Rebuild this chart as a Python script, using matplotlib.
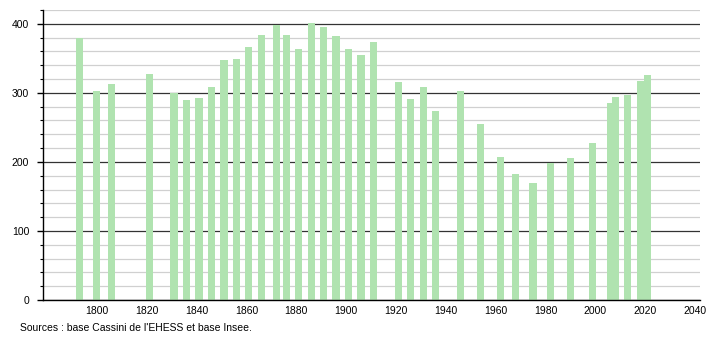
import matplotlib
matplotlib.use("Agg")
import matplotlib.pyplot as plt
from matplotlib.ticker import MultipleLocator

years = [1793, 1800, 1806, 1821, 1831, 1836, 1841, 1846, 1851, 1856, 1861, 1866,
         1872, 1876, 1881, 1886, 1891, 1896, 1901, 1906, 1911, 1921, 1926, 1931,
         1936, 1946, 1954, 1962, 1968, 1975, 1982, 1990, 1999, 2006, 2008, 2013,
         2018, 2021]
population = [379, 303, 313, 328, 300, 289, 292, 309, 348, 349, 367, 384,
              398, 384, 364, 401, 395, 382, 364, 355, 374, 315, 291, 309,
              273, 303, 255, 207, 183, 169, 199, 206, 228, 285, 294, 297,
              317, 326]
y_ticks = [0, 100, 200, 300, 400]
x_ticks = [1800, 1820, 1840, 1860, 1880, 1900, 1920, 1940, 1960, 1980, 2000, 2020, 2040]
source_text = "Sources : base Cassini de l'EHESS et base Insee."

plt.rcParams['font.family'] = ['Liberation Sans', 'DejaVu Sans']

fig = plt.figure(figsize=(7.1, 3.4), dpi=100)
ax = fig.add_axes([43/710, 1-300/340, (700-43)/710, (300-10)/340])

ax.set_xlim(1778.4, 2042)
ax.set_ylim(0, 420)

ax.yaxis.set_major_locator(MultipleLocator(100))
ax.yaxis.set_minor_locator(MultipleLocator(20))
ax.set_yticks(y_ticks)
ax.set_xticks(x_ticks)

ax.grid(which='minor', axis='y', color='#d0d0d0', linewidth=0.9, zorder=0)
ax.grid(which='major', axis='y', color='#333333', linewidth=0.9, zorder=0)
ax.set_axisbelow(True)

ax.bar(years, population, width=2.9, color='#b0e3b0', zorder=2)

for s in ['top', 'right']:
    ax.spines[s].set_visible(False)
ax.spines['left'].set_color('black')
ax.spines['bottom'].set_color('black')
ax.spines['left'].set_linewidth(1)
ax.spines['bottom'].set_linewidth(1)

ax.tick_params(axis='y', which='major', length=4, width=1, labelsize=7.5, pad=6)
ax.tick_params(axis='y', which='minor', length=2.5, width=0.8)
ax.tick_params(axis='x', which='major', length=0, labelsize=7.5, pad=4)

fig.text(20/710, 1-328/340, source_text, fontsize=7.5, va='center', ha='left')

fig.savefig('out.png', dpi=100, facecolor='white')
